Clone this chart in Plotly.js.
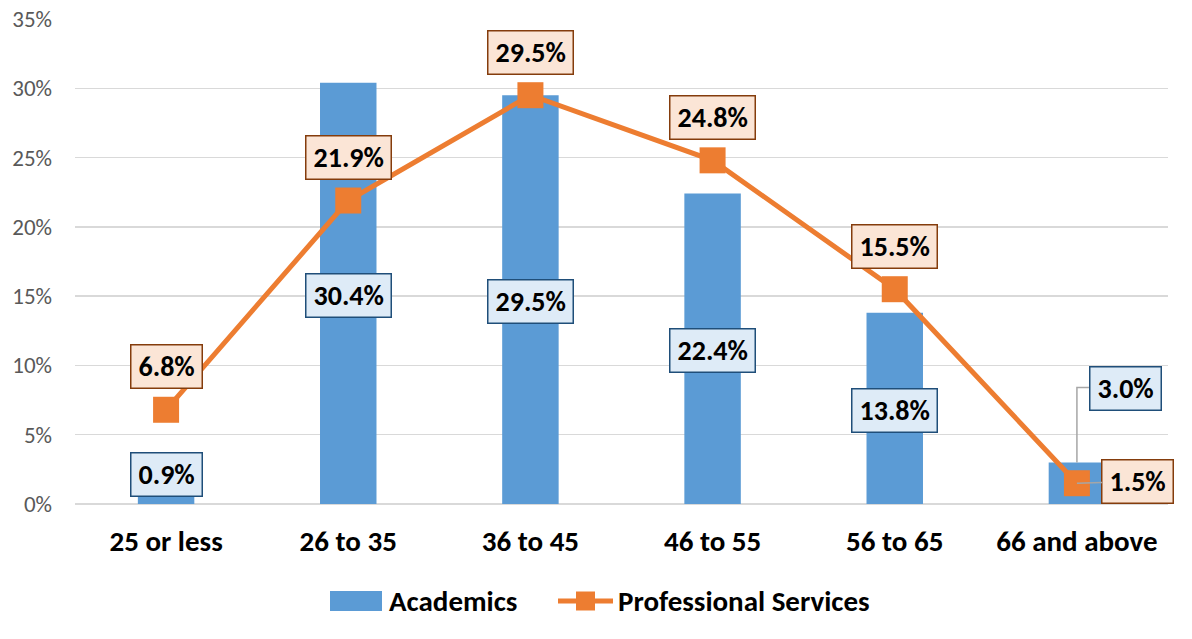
<!DOCTYPE html>
<html>
<head>
<meta charset="utf-8">
<script src="https://cdn.plot.ly/plotly-3.0.1.min.js"></script>
<style>html,body{margin:0;padding:0;background:#fff;}#chart{width:1192px;height:639px;}</style>
</head>
<body>
<div id="chart"></div>
<script>
const categories = ["25 or less", "26 to 35", "36 to 45", "46 to 55", "56 to 65", "66 and above"];
const academics = [0.9, 30.4, 29.5, 22.4, 13.8, 3.0];
const professional = [6.8, 21.9, 29.5, 24.8, 15.5, 1.5];
const yTickVals = [0, 5, 10, 15, 20, 25, 30, 35];
const yTickText = ["0%", "5%", "10%", "15%", "20%", "25%", "30%", "35%"];
const seriesNames = ["Academics", "Professional Services"];

const FONT = "Carlito, Calibri, Lato, sans-serif";
const BLUE = "#5B9BD5", ORANGE = "#ED7D31";
const W = 1192, H = 639, ML = 75, MR = 24, MT = 19, MB = 135;
const PW = W - ML - MR, PH = H - MT - MB;
const px = v => (v - ML) / PW;          // pixel -> paper x
const py = v => (H - MB - v) / PH;      // pixel -> paper y

const traces = [
  {
    type: "bar", name: seriesNames[0], x: categories, y: academics,
    marker: {color: BLUE}, width: 0.31, hoverinfo: "none"
  },
  {
    type: "scatter", mode: "lines+markers", name: seriesNames[1],
    x: categories, y: professional,
    line: {color: ORANGE, width: 5},
    marker: {color: ORANGE, symbol: "square", size: 26},
    hoverinfo: "none"
  }
];

const labelFont = {family: FONT, size: 28, color: "#000", weight: "bold"};
const boxCommon = {borderwidth: 1.5, borderpad: 7, height: 28, valign: "middle"};
const annotations = [];
const shapes = [];
categories.forEach((c, i) => {
  const a = academics[i];
  const base = Object.assign({
    x: c, xref: "x", yref: "y", showarrow: false,
    text: "<b>" + a.toFixed(1) + "%</b>", font: labelFont,
    bgcolor: "#DEEBF7", bordercolor: "#1F4E79"
  }, boxCommon);
  if (a >= 10) {
    annotations.push(Object.assign({}, base, {y: a / 2, yshift: -2}));
  } else if (i === categories.length - 1) {
    annotations.push(Object.assign({}, base, {y: a, yshift: 74, xshift: 49}));
    shapes.push({
      type: "path", xref: "x", yref: "y",
      xsizemode: "pixel", ysizemode: "pixel",
      xanchor: i, yanchor: a,
      path: "M0,0 L0,75 L12,75",
      line: {color: "#A6A6A6", width: 1.5}
    });
  } else {
    annotations.push(Object.assign({}, base, {y: a, yshift: 17}));
  }
  const p = professional[i];
  const pbase = Object.assign({
    x: c, y: p, xref: "x", yref: "y",
    text: "<b>" + p.toFixed(1) + "%</b>", font: labelFont,
    bgcolor: "#FBE5D6", bordercolor: "#843C0C"
  }, boxCommon);
  if (i === categories.length - 1) {
    annotations.push(Object.assign({}, pbase, {
      showarrow: true, arrowhead: 0, arrowwidth: 1.5, arrowcolor: "#A6A6A6",
      ax: 61, ay: -2, standoff: 0
    }));
  } else {
    annotations.push(Object.assign({}, pbase, {showarrow: false, yshift: 43}));
  }
});

// custom legend (paper coordinates)
const legFont = {family: FONT, size: 29, color: "#000", weight: "bold"};
shapes.push({type: "rect", xref: "paper", yref: "paper",
  x0: px(330), x1: px(382), y0: py(611), y1: py(591),
  fillcolor: BLUE, line: {width: 0}});
shapes.push({type: "line", xref: "paper", yref: "paper",
  x0: px(558), x1: px(613), y0: py(601), y1: py(601),
  line: {color: ORANGE, width: 5}});
shapes.push({type: "rect", xref: "paper", yref: "paper",
  x0: px(576), x1: px(595), y0: py(610.5), y1: py(591.5),
  fillcolor: ORANGE, line: {width: 0}});
annotations.push({xref: "paper", yref: "paper", x: px(387), y: py(601),
  xanchor: "left", yanchor: "middle", showarrow: false,
  text: "<b>" + seriesNames[0] + "</b>", font: legFont});
annotations.push({xref: "paper", yref: "paper", x: px(616), y: py(601),
  xanchor: "left", yanchor: "middle", showarrow: false,
  text: "<b>" + seriesNames[1] + "</b>", font: legFont});

const layout = {
  width: W, height: H,
  margin: {l: ML, r: MR, t: MT, b: MB},
  paper_bgcolor: "#fff", plot_bgcolor: "#fff",
  font: {family: FONT},
  showlegend: false,
  xaxis: {
    type: "category", range: [-0.5, categories.length - 0.5],
    showgrid: false, zeroline: false, showline: false,
    ticks: "", tickfont: {family: FONT, size: 29, color: "#000", weight: "bold"},
    ticklabelstandoff: 17, fixedrange: true
  },
  yaxis: {
    range: [0, 35], tickvals: yTickVals, ticktext: yTickText,
    showgrid: true, gridcolor: "#D9D9D9", gridwidth: 1.5,
    zeroline: true, zerolinecolor: "#D9D9D9", zerolinewidth: 1.5,
    showline: false, ticks: "",
    tickfont: {family: FONT, size: 23, color: "#595959"},
    ticklabelstandoff: 22, fixedrange: true
  },
  bargap: 0.69,
  annotations: annotations,
  shapes: shapes
};

Plotly.newPlot("chart", traces, layout, {displayModeBar: false, staticPlot: true});
</script>
</body>
</html>
